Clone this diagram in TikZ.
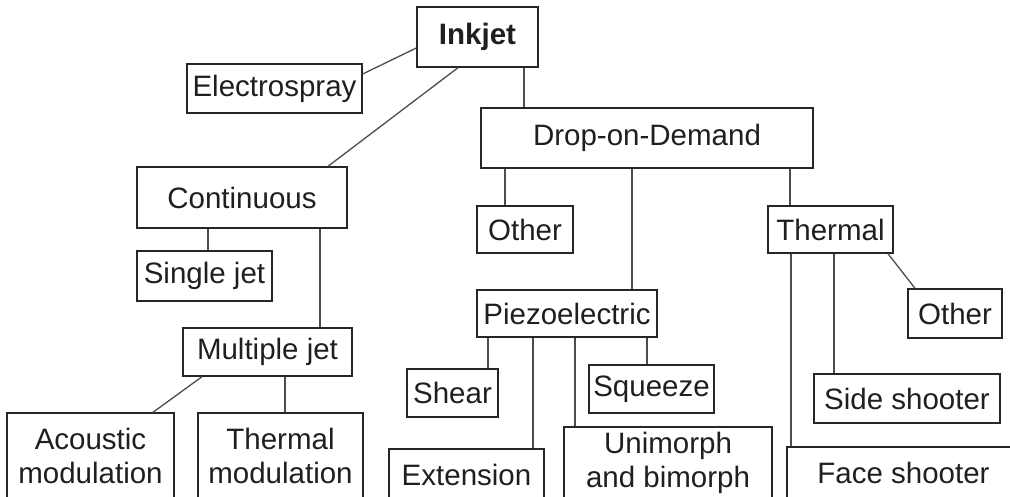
\documentclass[tikz,border=0pt]{standalone}
\usepackage{fontspec}
\setmainfont{Liberation Sans}
\begin{document}
\begin{tikzpicture}[x=1pt,y=-1pt,
  box/.style={draw=black!85,line width=1.4pt,inner sep=0pt,align=center,
    font=\fontsize{29.5}{34}\selectfont,text=black!88},
  link/.style={draw=black!70,line width=1.3pt}]
\clip (0,0) rectangle (1010,497);
\node[box,minimum width=121,minimum height=60,font=\fontsize{29.5}{34}\selectfont\bfseries] (inkjet) at (477.5,37) {Inkjet};
\node[box,minimum width=175,minimum height=49] (electro) at (274.5,88.5) {Electrospray};
\node[box,minimum width=210,minimum height=61] (cont) at (242,197.5) {Continuous};
\node[box,minimum width=332,minimum height=60] (dod) at (647,138) {Drop-on-Demand};
\node[box,minimum width=96,minimum height=47] (other1) at (525,229.5) {Other};
\node[box,minimum width=125,minimum height=47] (thermal) at (830.5,229.5) {Thermal};
\node[box,minimum width=135,minimum height=50] (single) at (204.5,276) {Single jet};
\node[box,minimum width=169,minimum height=48] (multi) at (267.5,352) {Multiple jet};
\node[box,minimum width=180,minimum height=47] (piezo) at (567,313.5) {Piezoelectric};
\node[box,minimum width=94,minimum height=49] (other2) at (955,313.5) {Other};
\node[box,minimum width=91,minimum height=48] (shear) at (452.5,393) {Shear};
\node[box,minimum width=125,minimum height=48] (squeeze) at (651.5,389) {Squeeze};
\node[box,minimum width=186,minimum height=49] (side) at (907,398.5) {Side shooter};
\node[box,minimum width=167,minimum height=86] (acoustic) at (90.5,456) {Acoustic\\modulation};
\node[box,minimum width=165,minimum height=86] (thmod) at (280.5,456) {Thermal\\modulation};
\node[box,minimum width=155,minimum height=52] (ext) at (466.5,475) {Extension};
\node[box,minimum width=208,minimum height=72] (uni) at (668,463) {Unimorph\\and bimorph};
\node[box,minimum width=233,minimum height=52] (face) at (903.5,473) {Face shooter};
% connectors
\draw[link] (inkjet.west |- 0,48) -- (electro.east |- 0,74);
\draw[link] (inkjet.south -| 458,0) -- (cont.north -| 328,0);
\draw[link] (inkjet.south -| 524,0) -- (dod.north -| 524,0);
\draw[link] (dod.south -| 505,0) -- (other1.north -| 505,0);
\draw[link] (dod.south -| 632,0) -- (piezo.north -| 632,0);
\draw[link] (dod.south -| 790,0) -- (thermal.north -| 790,0);
\draw[link] (cont.south -| 208,0) -- (single.north -| 208,0);
\draw[link] (cont.south -| 320,0) -- (multi.north -| 320,0);
\draw[link] (multi.south -| 202,0) -- (acoustic.north -| 153,0);
\draw[link] (multi.south -| 285,0) -- (thmod.north -| 285,0);
\draw[link] (piezo.south -| 488,0) -- (shear.north -| 488,0);
\draw[link] (piezo.south -| 533,0) -- (ext.north -| 533,0);
\draw[link] (piezo.south -| 575,0) -- (uni.north -| 575,0);
\draw[link] (piezo.south -| 647,0) -- (squeeze.north -| 647,0);
\draw[link] (thermal.south -| 791,0) -- (face.north -| 791,0);
\draw[link] (thermal.south -| 834,0) -- (side.north -| 834,0);
\draw[link] (thermal.south -| 888,0) -- (other2.north -| 915,0);
\end{tikzpicture}
\end{document}
